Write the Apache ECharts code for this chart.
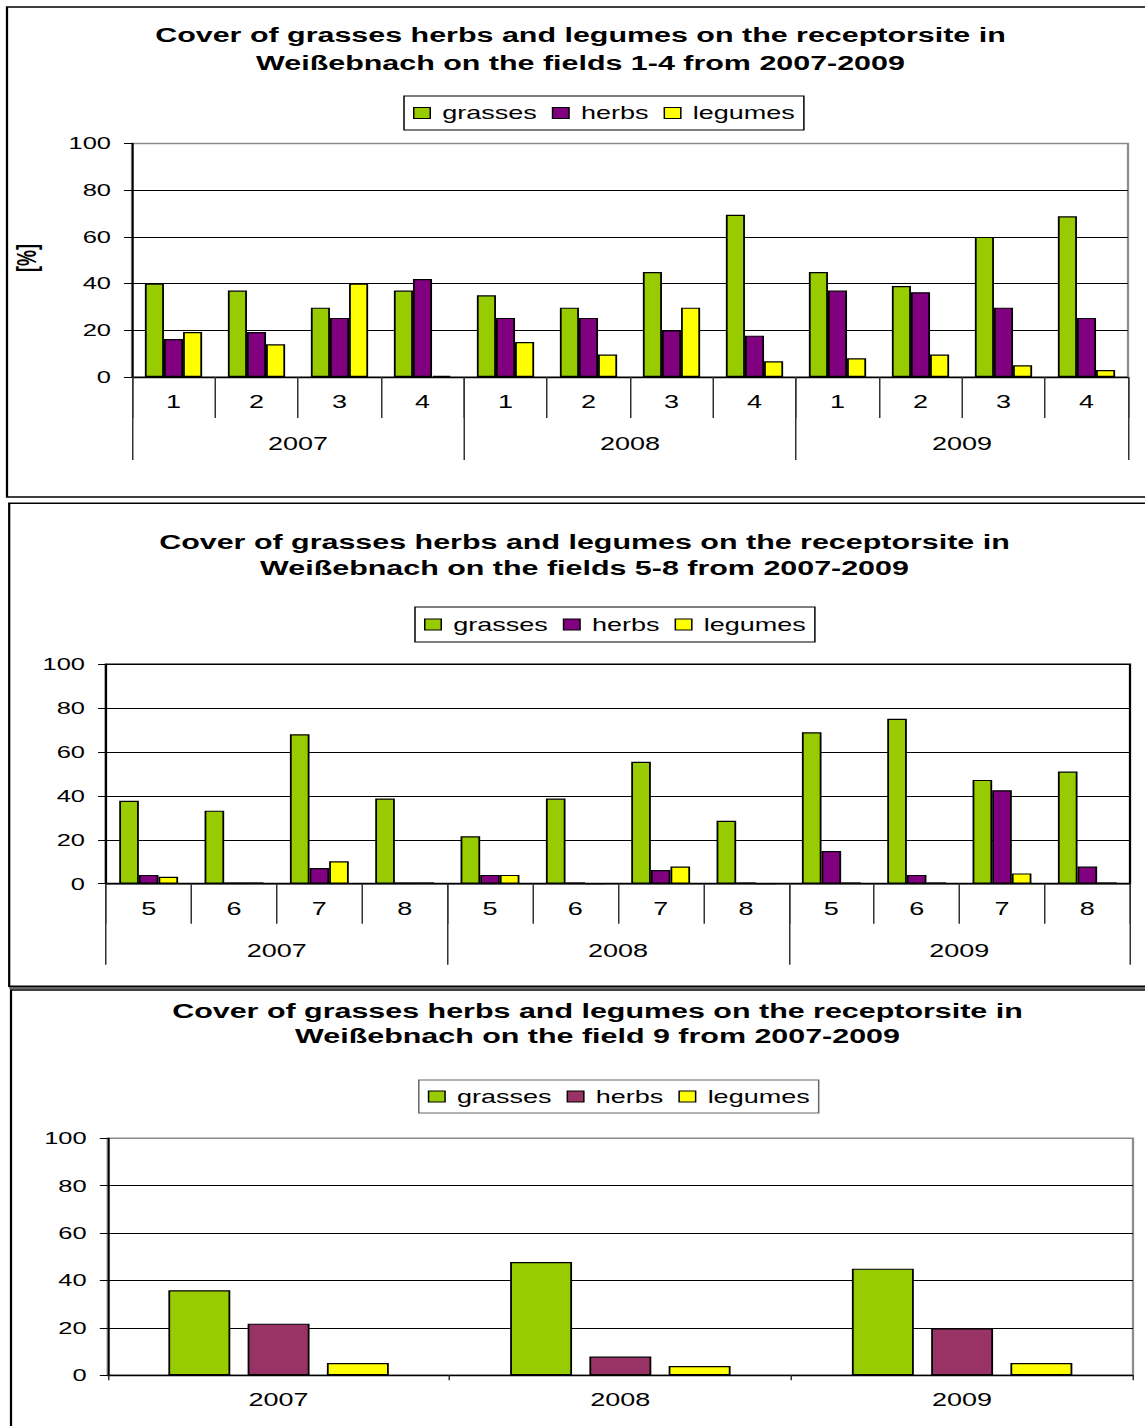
<!DOCTYPE html>
<html>
<head>
<meta charset="utf-8">
<title>Cover of grasses, herbs and legumes – Weißebnach</title>
<script src="https://cdn.jsdelivr.net/npm/echarts@6.0.0/dist/echarts.min.js"></script>
<style>
  html, body { margin: 0; padding: 0; background: #fff; overflow: hidden; }
  /* the sheet is laid out narrow and widened horizontally, like the exported worksheet charts */
  #chart { width: 764px; height: 1426px; transform: scaleX(1.5); transform-origin: 0 0; }
</style>
</head>
<body>
<div id="chart"></div>
<script>
// ---- data -------------------------------------------------------------
const years = ['2007', '2008', '2009'];
const fieldsA = ['1', '2', '3', '4'];
const fieldsB = ['5', '6', '7', '8'];
const yTicks = [0, 20, 40, 60, 80, 100];
const seriesNames = ['grasses', 'herbs', 'legumes'];

// fields 1-4, ordered 2007 (1..4), 2008 (1..4), 2009 (1..4)
const grassesA = [40, 37, 29.7, 37, 35, 29.7, 45, 69.5, 45, 39, 60, 68.8];
const herbsA   = [16.3, 19.3, 25.3, 42, 25.3, 25.3, 20, 17.7, 37, 36.3, 29.7, 25.3];
const legumesA = [19.3, 14, 40, 0.5, 15, 9.6, 29.7, 6.7, 8, 9.6, 5, 3];

// fields 5-8, ordered 2007 (5..8), 2008 (5..8), 2009 (5..8)
const grassesB = [37.8, 33.3, 68.1, 38.8, 21.6, 38.8, 55.6, 28.7, 69, 75.2, 47.3, 51.1];
const herbsB   = [4, 0.6, 7.1, 0.6, 4, 0.6, 6.2, 0.6, 14.9, 4, 42.6, 7.8];
const legumesB = [3.2, 0.6, 10.2, 0.6, 4, 0, 7.8, 0, 0.6, 0.6, 4.7, 0.6];

// field 9, one value per year
const grassesC = [35.9, 47.8, 45];
const herbsC   = [21.8, 7.9, 19.8];
const legumesC = [5.2, 3.9, 5.2];

// ---- styling helpers --------------------------------------------------
const S = 1.5;                    // horizontal widening of the sheet
const sx = v => v / S;            // sheet x -> layout x
const FONT = 'Liberation Sans, Arial, Helvetica, sans-serif';
const GREEN = '#99CC00', PURPLE = '#800080', PLUM = '#993366', YELLOW = '#FFFF00';

const yAxisFor = (gridIndex, gridColors) => ({
  type: 'value', gridIndex,
  min: yTicks[0], max: yTicks[yTicks.length - 1], interval: yTicks[1] - yTicks[0],
  axisLine: { show: true, lineStyle: { color: '#000', width: 1.3 } },
  axisTick: { show: true, length: 5.3, lineStyle: { color: '#000', width: 1 } },
  axisLabel: { color: '#000', fontFamily: FONT, fontSize: 17, margin: 14 },
  splitLine: { show: true, lineStyle: { color: gridColors, width: 1 } }
});

const catAxis = (gridIndex, data, tickLen, margin, showLine) => ({
  type: 'category', gridIndex, data, position: 'bottom', boundaryGap: true,
  axisLine: { show: showLine, lineStyle: { color: '#000', width: 1.3 } },
  axisTick: { show: true, interval: 0, length: tickLen, lineStyle: { color: '#333', width: 1 } },
  axisLabel: { interval: 0, color: '#000', fontFamily: FONT, fontSize: 18, margin },
  splitLine: { show: false }
});

const bar = (name, data, color, xi, yi, catGap, gap) => ({
  type: 'bar', name, data, xAxisIndex: xi, yAxisIndex: yi,
  barCategoryGap: catGap, barGap: gap,
  itemStyle: { color, borderColor: '#000', borderWidth: 1.2 },
  emphasis: { disabled: true }
});

const legendFor = (left, top, pad, border, herbColor) => ({
  orient: 'horizontal', left, top, padding: pad,
  itemGap: 10, itemWidth: 11, itemHeight: 11, icon: 'rect',
  borderColor: border, borderWidth: 1, backgroundColor: '#fff',
  itemStyle: { borderColor: '#000', borderWidth: 1 },
  textStyle: { color: '#000', fontFamily: FONT, fontSize: 18, lineHeight: 18, padding: [0, 0, 0, 3] },
  selectedMode: false,
  data: [
    { name: seriesNames[0], itemStyle: { color: GREEN } },
    { name: seriesNames[1], itemStyle: { color: herbColor } },
    { name: seriesNames[2], itemStyle: { color: YELLOW } }
  ]
});

const titleText = (cx, top, lh, lines) => ({
  type: 'text', x: sx(cx), y: top, silent: true,
  style: {
    text: lines.join('\n'), fill: '#000', textAlign: 'center', textVerticalAlign: 'top',
    font: 'bold 20.3px ' + FONT, lineHeight: lh
  }
});

const frame = (x, y, w, h, lw) => ({
  type: 'rect', silent: true,
  shape: { x: sx(x), y, width: sx(w), height: h },
  style: { fill: 'none', stroke: '#000', lineWidth: lw }
});

// category lists for the two grouped axes
const cats12A = years.flatMap(() => fieldsA);
const cats12B = years.flatMap(() => fieldsB);

const greyTop = ['#000', '#000', '#000', '#000', '#000', '#8c8c8c'];

const option = {
  animation: false,
  backgroundColor: '#fff',
  textStyle: { fontFamily: FONT },
  graphic: [
    frame(7, 7, 1160, 490, 1.5),
    frame(9.2, 503.3, 1160, 483, 1.5),
    { type: 'line', silent: true, shape: { x1: sx(9.2), y1: 988, x2: sx(1160), y2: 988 },
      style: { stroke: '#333', lineWidth: 1.5 } },
    frame(11, 990, 1160, 500, 1.5),
    titleText(580.5, 21, 28, ['Cover of grasses herbs and legumes on the receptorsite in',
                              'Weißebnach on the fields 1-4 from 2007-2009']),
    titleText(584.5, 528.5, 26.3, ['Cover of grasses herbs and legumes on the receptorsite in',
                                   'Weißebnach on the fields 5-8 from 2007-2009']),
    titleText(597.5, 999, 24.7, ['Cover of grasses herbs and legumes on the receptorsite in',
                                 'Weißebnach on the field 9 from 2007-2009']),
    { type: 'text', x: sx(27), y: 258, rotation: Math.PI / 2, silent: true,
      style: { text: '[%]', fill: '#000', font: 'bold 18px ' + FONT,
               textAlign: 'center', textVerticalAlign: 'middle' } }
  ],
  legend: [
    legendFor(sx(404), 96, [8, 6, 8, 6], '#000', PURPLE),
    legendFor(sx(415), 607, [8.5, 6, 8.5, 6], '#000', PURPLE),
    legendFor(sx(418.8), 1080, [7.5, 6, 7.5, 6], '#666', PLUM)
  ],
  grid: [
    { left: sx(132), top: 143.5, width: sx(996), height: 233.5, containLabel: false,
      outerBoundsMode: 'none', show: true, borderColor: '#8c8c8c', borderWidth: 1.5 },
    { left: sx(106), top: 664.3, width: sx(1024), height: 219.4, containLabel: false,
      outerBoundsMode: 'none', show: true, borderColor: '#000', borderWidth: 1.5 },
    { left: sx(107.7), top: 1138.3, width: sx(1025.3), height: 237, containLabel: false,
      outerBoundsMode: 'none', show: true, borderColor: '#8c8c8c', borderWidth: 1.5 }
  ],
  xAxis: [
    catAxis(0, cats12A, 41, 16, true),
    catAxis(0, years, 83, 58, false),
    catAxis(1, cats12B, 40, 16, true),
    catAxis(1, years, 81, 58, false),
    catAxis(2, years, 5, 15.5, true)
  ],
  yAxis: [
    yAxisFor(0, greyTop),
    yAxisFor(1, '#000'),
    yAxisFor(2, greyTop)
  ],
  series: [
    bar(seriesNames[0], grassesA, GREEN, 0, 0, '31%', '0%'),
    bar(seriesNames[1], herbsA, PURPLE, 0, 0, '31%', '0%'),
    bar(seriesNames[2], legumesA, YELLOW, 0, 0, '31%', '0%'),
    bar(seriesNames[0], grassesB, GREEN, 2, 1, '31%', '0%'),
    bar(seriesNames[1], herbsB, PURPLE, 2, 1, '31%', '0%'),
    bar(seriesNames[2], legumesB, YELLOW, 2, 1, '31%', '0%'),
    bar(seriesNames[0], grassesC, GREEN, 4, 2, '35.5%', '28%'),
    bar(seriesNames[1], herbsC, PLUM, 4, 2, '35.5%', '28%'),
    bar(seriesNames[2], legumesC, YELLOW, 4, 2, '35.5%', '28%')
  ]
};

const chart = echarts.init(document.getElementById('chart'), null, { renderer: 'svg' });
chart.setOption(option);
</script>
</body>
</html>
